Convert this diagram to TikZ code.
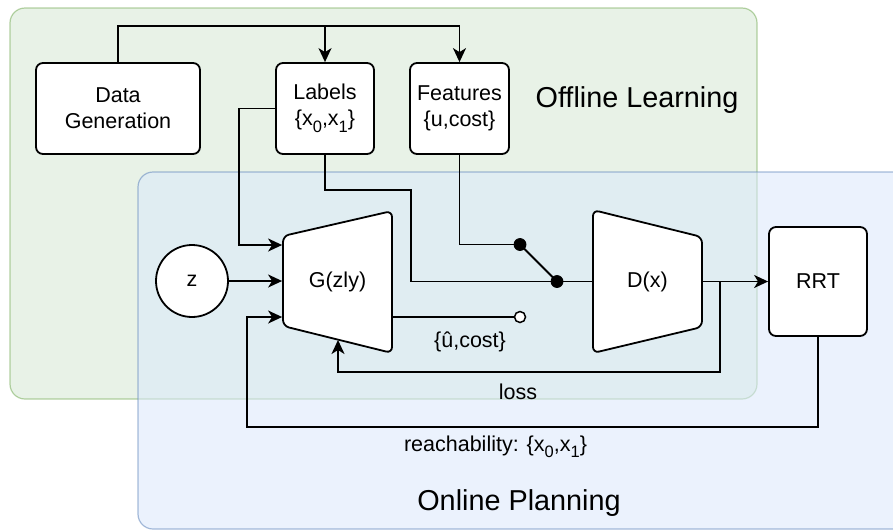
\documentclass[tikz,border=0pt]{standalone}
\usepackage{fontspec}
\setmainfont{Liberation Sans}
\usetikzlibrary{arrows.meta,calc}
\definecolor{grfill}{HTML}{D5E8D4}
\definecolor{grline}{HTML}{82B366}
\definecolor{blfill}{HTML}{DAE8FC}
\definecolor{blline}{HTML}{6C8EBF}
\newcommand\mysub[1]{\raisebox{-0.3em}{\fontsize{16.5}{16.5}\selectfont #1}}
\begin{document}
\begin{tikzpicture}[x=1pt,y=-1pt, line width=1.8pt,
  box/.style={draw, fill=white, rounded corners=7pt, align=center, inner sep=0pt, font=\fontsize{21.5}{26}\selectfont},
  lbl/.style={inner sep=0pt, font=\fontsize{21.5}{26}\selectfont},
  big/.style={inner sep=0pt, font=\fontsize{28.8}{32}\selectfont},
  arr/.style={-{Stealth[length=14pt,width=13pt,inset=4pt]}},
  dot/.style={circle, fill=black, draw=black, line width=0.8pt, minimum size=12pt, inner sep=0pt},
  odot/.style={circle, fill=white, draw=black, line width=1.5pt, minimum size=11pt, inner sep=0pt},
  trap/.style={draw, fill=white, rounded corners=6pt},
  grp/.style={rounded corners=15pt, line width=1.2pt, fill opacity=0.55, draw opacity=0.6}
  ]
\useasboundingbox (0,0) rectangle (893,531);
\begin{scope}
  \clip (0,0) rectangle (893,531);
  \draw[grp, fill=grfill, draw=grline] (10,8) rectangle (757,399);
  \draw[grp, fill=blfill, draw=blline] (138,172) rectangle (915,529);
\end{scope}

\node[big] (off) at (637,100) {Offline Learning};
\node[big] (on) at (519,503) {Online Planning};

% boxes
\node[box, minimum width=164pt, minimum height=91pt] (dg) at (118,108.5) {Data\\Generation};
\node[box, minimum width=98pt, minimum height=91pt] (lab) at (325,108.5) {Labels\\\{x\mysub{0},x\mysub{1}\}};
\node[box, minimum width=99pt, minimum height=91pt] (feat) at (459.5,108.5) {Features\\\{u,cost\}};
\node[box, minimum width=98pt, minimum height=109pt] (rrt) at (818,281.5) {RRT};
\node[lbl, draw, circle, fill=white, minimum size=72pt, line width=1.8pt] (z) at (192,281) {z};

% trapezoids
\draw[trap] (283,236) -- (392,211) -- (392,353) -- (283,326) -- cycle;
\node[lbl, minimum width=109pt, minimum height=142pt] (G) at (337.5,282) {G(zly)};
\draw[trap] (593,210) -- (702,237) -- (702,327) -- (593,353) -- cycle;
\node[lbl, minimum width=109pt, minimum height=143pt] (D) at (647.5,281.5) {D(x)};

% switch dots
\node[dot] (d1) at (520,244.5) {};
\node[dot] (d2) at (557,281.5) {};
\node[odot] (oc) at (520,317) {};
\coordinate (gbot) at (338,340);
\coordinate (lossstart) at (720,281.5);

% connectors
\draw[arr] (dg.north) -- ++(0,-36) -| (lab.north);
\draw[arr] (dg.north) -- ++(0,-36) -| (feat.north);
\draw[arr] (lab.west) -| (239,245) -- (G.west |- 0,245);
\draw[arr] (z) -- (z -| G.west);
\draw (lab.south) |- (411,190) |- (d2.center) -- (D.west);
\draw (feat.south) |- (d1.center);
\draw (d1.center) -- (d2.center);
\draw (G.east |- 0,317) -- (oc.west);
\draw[arr] (D.east) -- (rrt.west);
\draw[arr] (lossstart) |- (338,372) -- (gbot);
\draw[arr] (rrt.south) |- (247,427) |- (G.west |- 0,317);

% labels
\node[lbl] (ucost) at (470,342) {\{û,cost\}};
\node[lbl] (loss) at (518,392) {loss};
\node[lbl] (reach) at (495.5,447) {reachability: \{x\mysub{0},x\mysub{1}\}};
\end{tikzpicture}
\end{document}
